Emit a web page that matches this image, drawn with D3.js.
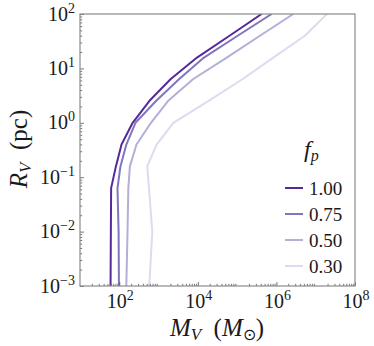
<!DOCTYPE html>
<html>
<head>
<meta charset="utf-8">
<script src="https://cdn.jsdelivr.net/npm/d3@7"></script>
<style>
  body { margin: 0; background: #fff; }
  svg { display: block; }
  text { font-family: "Liberation Serif", "Times New Roman", serif; fill: #1a1a1a; }
</style>
</head>
<body>
<svg width="374" height="346"></svg>
<script>
// virial radius grid (pc), shared by all curves
const radii = [0.001, 0.01, 0.063, 0.158, 0.398, 1, 2.51, 6.31, 15.8, 39.8, 100]

// virial mass (Msun) along each curve, one array per f_p
const fpLabels = ['1.00', '0.75', '0.50', '0.30']
const mass100 = [60, 61, 62, 82, 114, 219, 580, 2010, 9500, 64000, 420000]
const mass075 = [98, 96, 90, 107, 151, 258, 860, 3300, 14300, 103000, 755000]
const mass050 = [151, 162, 170, 186, 274, 641, 1730, 7500, 54300, 380000, 2690000]
const mass030 = [580, 692, 570, 515, 891, 2370, 18400, 136000, 832000, 5300000, 19300000]

const xTicks = [1e2, 1e4, 1e6, 1e8]
const yTicks = [1e-3, 1e-2, 1e-1, 1e0, 1e1, 1e2]

const colors = ['#56299a', '#7e76bf', '#b2b0da', '#dddcee']

const series = [mass100, mass075, mass050, mass030].map((m, i) => ({
  label: fpLabels[i],
  color: colors[i],
  points: m.map((v, j) => ({ m: v, r: radii[j] }))
}))

const svg = d3.select('svg')
const plotL = 80, plotR = 355, plotT = 14, plotB = 286

const x = d3.scaleLog().domain([10, 1e8]).range([plotL, plotR])
const y = d3.scaleLog().domain([1e-3, 1e2]).range([plotB, plotT])

// minor tick values for a log domain
function minors(scale) {
  const [lo, hi] = scale.domain()
  const out = []
  for (let e = Math.floor(Math.log10(lo)); e < Math.ceil(Math.log10(hi)); e++)
    for (let k = 2; k <= 9; k++) {
      const v = k * Math.pow(10, e)
      if (v >= lo && v <= hi) out.push(v)
    }
  return out
}

svg.append('defs').append('clipPath').attr('id', 'plot')
  .append('rect').attr('x', plotL).attr('y', plotT)
  .attr('width', plotR - plotL).attr('height', plotB - plotT)

// curves
const line = d3.line().x(d => x(d.m)).y(d => y(d.r))
svg.append('g').attr('clip-path', 'url(#plot)')
  .selectAll('path')
  .data(series.slice().reverse())
  .join('path')
    .attr('d', d => line(d.points))
    .attr('fill', 'none')
    .attr('stroke', d => d.color)
    .attr('stroke-width', 2)
    .attr('stroke-linejoin', 'round')

// axes: ticks point inward
function styleAxis(g) {
  g.select('.domain').remove()
  g.selectAll('line').attr('stroke', '#555').attr('stroke-width', 0.8)
}
svg.append('g').attr('transform', `translate(0,${plotB})`)
  .call(d3.axisBottom(x).tickValues(xTicks).tickSizeInner(-4).tickSizeOuter(0).tickFormat(''))
  .call(styleAxis)
svg.append('g').attr('transform', `translate(0,${plotB})`)
  .call(d3.axisBottom(x).tickValues(minors(x)).tickSizeInner(-2.2).tickSizeOuter(0).tickFormat(''))
  .call(styleAxis)
svg.append('g').attr('transform', `translate(${plotL},0)`)
  .call(d3.axisLeft(y).tickValues(yTicks).tickSizeInner(-4).tickSizeOuter(0).tickFormat(''))
  .call(styleAxis)
svg.append('g').attr('transform', `translate(${plotL},0)`)
  .call(d3.axisLeft(y).tickValues(minors(y)).tickSizeInner(-2.2).tickSizeOuter(0).tickFormat(''))
  .call(styleAxis)

// frame
svg.append('rect')
  .attr('x', plotL).attr('y', plotT)
  .attr('width', plotR - plotL).attr('height', plotB - plotT)
  .attr('fill', 'none').attr('stroke', '#8a8a8a').attr('stroke-width', 1.2)

// power-of-ten labels
function powLabel(sel, v) {
  const e = Math.round(Math.log10(v))
  sel.append('tspan').text('10')
  sel.append('tspan').attr('dy', -8).attr('font-size', 14)
    .text(e < 0 ? '\u2212' + (-e) : e)
}

svg.append('g').selectAll('text')
  .data(xTicks)
  .join('text')
    .attr('x', d => x(d) + 1)
    .attr('y', 308)
    .attr('text-anchor', 'middle')
    .attr('font-size', 20)
    .each(function(d) { powLabel(d3.select(this), d) })

svg.append('g').selectAll('text')
  .data(yTicks)
  .join('text')
    .attr('x', plotL - 5)
    .attr('y', d => y(d) + 6.5)
    .attr('text-anchor', 'end')
    .attr('font-size', 20)
    .each(function(d) { powLabel(d3.select(this), d) })

// axis titles
const xl = svg.append('text')
  .attr('x', 217).attr('y', 336)
  .attr('text-anchor', 'middle')
  .attr('font-size', 25)
xl.append('tspan').attr('font-style', 'italic').text('M')
xl.append('tspan').attr('font-style', 'italic').attr('font-size', 17).attr('dy', 4).text('V')
xl.append('tspan').attr('dy', -4).text('\u2002(')
xl.append('tspan').attr('font-style', 'italic').text('M')
xl.append('tspan').attr('font-size', 16).attr('dy', 4).text('\u2299')
xl.append('tspan').attr('dy', -4).text(')')

const yl = svg.append('text')
  .attr('transform', 'translate(27,149) rotate(-90)')
  .attr('text-anchor', 'middle')
  .attr('font-size', 25)
yl.append('tspan').attr('font-style', 'italic').text('R')
yl.append('tspan').attr('font-style', 'italic').attr('font-size', 17).attr('dy', 4).text('V')
yl.append('tspan').attr('dy', -4).text('\u2002(pc)')

// legend
const lg = svg.append('g')
const title = lg.append('text')
  .attr('x', 304).attr('y', 157)
  .attr('font-size', 24)
title.append('tspan').attr('font-style', 'italic').text('f')
title.append('tspan').attr('font-style', 'italic').attr('font-size', 16).attr('dy', 4).text('p')

const rows = lg.selectAll('g.row')
  .data(series)
  .join('g')
    .attr('class', 'row')
    .attr('transform', (d, i) => `translate(0,${188 + i * 26})`)
rows.append('line')
  .attr('x1', 285).attr('x2', 303)
  .attr('stroke', d => d.color).attr('stroke-width', 2)
rows.append('text')
  .attr('x', 309).attr('y', 6.5)
  .attr('font-size', 19)
  .text(d => d.label)
</script>
</body>
</html>
